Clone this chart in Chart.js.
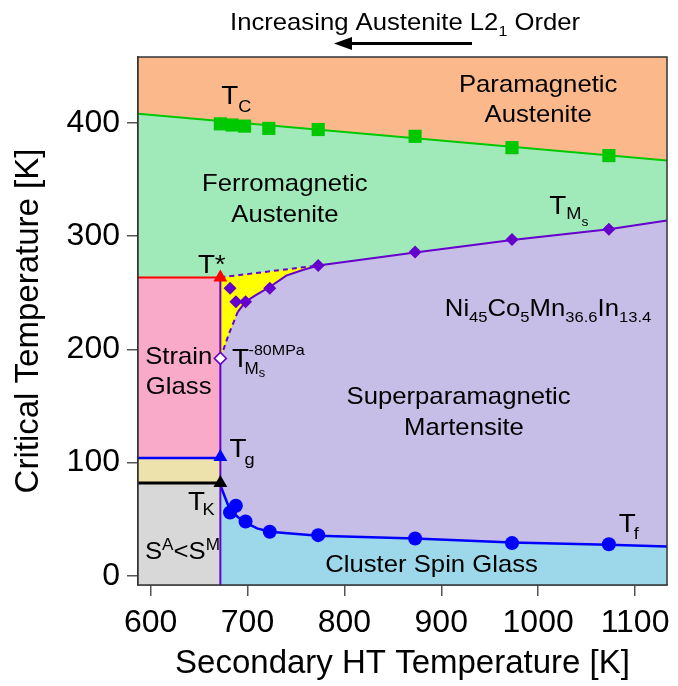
<!DOCTYPE html>
<html>
<head>
<meta charset="utf-8">
<script src="https://cdn.jsdelivr.net/npm/chart.js@4.4.1/dist/chart.umd.min.js"></script>
<style>
  html, body { margin: 0; padding: 0; background: #fff; }
  canvas { display: block; }
</style>
</head>
<body>
<canvas id="phaseChart" width="678" height="686"></canvas>
<script>
// ---- axis setup ----
const xTicks = [600, 700, 800, 900, 1000, 1100];
const yTicks = [0, 100, 200, 300, 400];
const xMin = 587, xMax = 1133;
const yMin = -8, yMax = 458;

// ---- measured points ----
const tcTemps = [672, 684, 697, 722, 773, 873, 973, 1073];
const tcValues = [399, 398, 397, 395, 394, 388, 378, 371];

const msTemps = [682, 688, 698, 723, 773, 873, 973, 1073];
const msValues = [254, 242, 242, 254, 274, 286, 297, 306];

const tfTemps = [682, 688, 698, 723, 773, 873, 973, 1073];
const tfValues = [56, 62, 48, 39, 36, 33, 29, 28];

// T*, Tg, TK (triangles) and TMs at -80 MPa (open diamond), all at 672 K
const edgeTemp = 672;
const triangleValues = [263.5, 105, 82];
const msStressValue = 192;

// ---- phase boundaries ----
const tcLineX = [587, 1133];
const tcLineY = [408, 366.6];

const msCurveX = [672, 681, 690, 698, 709, 723, 740, 757, 773, 873, 973, 1073, 1133];
const msCurveY = [192, 214, 233, 242, 248, 255, 265, 270, 274, 285.5, 296.5, 306, 313.6];

const starLineX = [672, 773];
const starLineY = [263.5, 274];

const tfCurveX = [672, 682, 690, 698, 710, 723, 773, 873, 973, 1073, 1133];
const tfCurveY = [80, 58, 52, 47, 42, 39, 35.5, 33, 29.5, 27.5, 26];

const stripX = [587, 672];
const strainTop = 263.5;
const tgLevel = 104;
const tkLevel = 82;

// ---- colours ----
const ORANGE = '#fbb98b';
const GREEN_BG = '#a0eaba';
const LAVENDER = '#c6bee6';
const PINK = '#f8aac8';
const BEIGE = '#eee2ac';
const GREY = '#d8d8d8';
const CYAN = '#9dd8ea';
const YELLOW = '#ffff00';
const PURPLE = '#6600cc';
const TC_GREEN = '#00c800';
const BLUE = '#0000ff';

const FONT = 'Arial, "Liberation Sans", sans-serif';
const SX = 1.07;

// in-plot labels, anchored in data units
const labels = [
  { x: 1000, y: 427.5, align: 'center', runs: [{ t: 'Paramagnetic', s: 24 }] },
  { x: 1000, y: 400.2, align: 'center', runs: [{ t: 'Austenite', s: 24 }] },
  { x: 738.6, y: 340, align: 'center', runs: [{ t: 'Ferromagnetic', s: 24 }] },
  { x: 738.6, y: 312, align: 'center', runs: [{ t: 'Austenite', s: 24 }] },
  { x: 672.9, y: 416.4, runs: [{ t: 'T', s: 26 }, { t: 'C', s: 17, dy: 7.4 }] },
  { x: 1011.5, y: 319.4, runs: [{ t: 'T', s: 26 }, { t: 'M', s: 17, dy: 5 }, { t: 's', s: 13, dy: 11.7 }] },
  { x: 648.8, y: 267.1, runs: [{ t: 'T*', s: 26 }] },
  { x: 629, y: 187.2, align: 'center', runs: [{ t: 'Strain', s: 24 }] },
  { x: 629, y: 160.8, align: 'center', runs: [{ t: 'Glass', s: 24 }] },
  { x: 684.1, y: 184.2, runs: [{ t: 'T', s: 26 }, { t: '-80MPa', s: 15, dy: -12.7, x: 16.5 },
                               { t: 'M', s: 16, dy: 6.6, x: 12.3 }, { t: 's', s: 12, dy: 10 }] },
  { x: 917.9, y: 152, align: 'center', runs: [{ t: 'Superparamagnetic', s: 24 }] },
  { x: 923.4, y: 124, align: 'center', runs: [{ t: 'Martensite', s: 24 }] },
  { x: 903.7, y: 229.8, runs: [{ t: 'Ni', s: 24 }, { t: '45', s: 15.5, dy: 6.7 }, { t: 'Co', s: 24 },
                               { t: '5', s: 15.5, dy: 6.7 }, { t: 'Mn', s: 24 }, { t: '36.6', s: 15.5, dy: 6.7 },
                               { t: 'In', s: 24 }, { t: '13.4', s: 15.5, dy: 6.7 }] },
  { x: 681.4, y: 104.9, runs: [{ t: 'T', s: 26 }, { t: 'g', s: 17, dy: 8.3, x: 15 }] },
  { x: 638.6, y: 58.5, runs: [{ t: 'T', s: 26 }, { t: 'K', s: 17, dy: 5, x: 14.4 }] },
  { x: 594.2, y: 15.3, runs: [{ t: 'S', s: 24 }, { t: 'A', s: 16, dy: -9 }, { t: '<', s: 24 },
                              { t: 'S', s: 24 }, { t: 'M', s: 16, dy: -9 }] },
  { x: 890, y: 3.5, align: 'center', runs: [{ t: 'Cluster Spin Glass', s: 24 }] },
  { x: 1083.3, y: 38.8, runs: [{ t: 'T', s: 26 }, { t: 'f', s: 17, dy: 6.6, x: 15 }] }
];

const headerRuns = [{ t: 'Increasing Austenite L2', s: 24 }, { t: '1', s: 15, dy: 6 }, { t: ' Order', s: 24 }];

function pts(xs, ys) {
  return xs.map((v, i) => ({ x: v, y: ys[i] }));
}

function drawRuns(ctx, x0, y0, runs, align) {
  let w = 0;
  if (align === 'center') {
    runs.forEach(r => { ctx.font = r.s + 'px ' + FONT; w += ctx.measureText(r.t).width * SX; });
  }
  const start = align === 'center' ? x0 - w / 2 : x0;
  let cx = start;
  runs.forEach(r => {
    if (r.x !== undefined) cx = start + r.x;
    ctx.font = r.s + 'px ' + FONT;
    ctx.save();
    ctx.translate(cx, y0 + (r.dy || 0));
    ctx.scale(SX, 1);
    ctx.fillText(r.t, 0, 0);
    ctx.restore();
    cx += ctx.measureText(r.t).width * SX;
  });
}

const labelPlugin = {
  id: 'phaseLabels',
  afterDatasetsDraw(chart) {
    const { ctx, chartArea: a, scales: { x, y } } = chart;
    ctx.save();
    ctx.strokeStyle = '#333';
    ctx.lineWidth = 1.5;
    ctx.strokeRect(a.left, a.top, a.right - a.left, a.bottom - a.top);
    ctx.fillStyle = '#000';
    ctx.textBaseline = 'alphabetic';
    ctx.textAlign = 'left';
    labels.forEach(l => drawRuns(ctx, x.getPixelForValue(l.x), y.getPixelForValue(l.y), l.runs, l.align));

    // header + arrow above the plot
    drawRuns(ctx, 230, 30, headerRuns);
    ctx.strokeStyle = '#000';
    ctx.lineWidth = 3;
    ctx.beginPath();
    ctx.moveTo(472, 43.5);
    ctx.lineTo(348, 43.5);
    ctx.stroke();
    ctx.beginPath();
    ctx.moveTo(334, 43.5);
    ctx.lineTo(352, 37);
    ctx.lineTo(352, 50);
    ctx.closePath();
    ctx.fill();
    ctx.restore();
  }
};

Chart.defaults.font.family = FONT;
Chart.defaults.color = '#000';

const fillSet = (data, fill, bg, line, width, order, extra) => Object.assign({
  type: 'line', data, fill, backgroundColor: bg, borderColor: line || 'rgba(0,0,0,0)',
  borderWidth: width || 0, pointRadius: 0, tension: 0, order
}, extra || {});

new Chart(document.getElementById('phaseChart'), {
  type: 'line',
  data: {
    datasets: [
      fillSet(pts(tcLineX, tcLineY), 'start', GREEN_BG, null, 0, 30),
      fillSet(pts(tcLineX, tcLineY), 'end', ORANGE, TC_GREEN, 2, 29),
      fillSet(pts(starLineX, starLineY), 'start', YELLOW, PURPLE, 2, 28, { borderDash: [5, 4] }),
      fillSet(pts(msCurveX, msCurveY), 'start', LAVENDER, null, 0, 27),
      fillSet(pts(msCurveX, msCurveY), false, 'rgba(0,0,0,0)', PURPLE, 2, 26.5, {
        segment: { borderDash: c => (c.p0DataIndex < 2 ? [5, 4] : undefined) }
      }),
      fillSet(pts(tfCurveX, tfCurveY), 'start', CYAN, BLUE, 2.5, 26),
      fillSet(pts(stripX, [strainTop, strainTop]), 'start', PINK, '#ff0000', 2, 25),
      fillSet(pts(stripX, [tgLevel, tgLevel]), 'start', BEIGE, BLUE, 2.5, 24),
      fillSet(pts(stripX, [tkLevel, tkLevel]), 'start', GREY, '#000', 3, 23),
      fillSet(pts([edgeTemp, edgeTemp], [yMin, strainTop]), false, 'rgba(0,0,0,0)', PURPLE, 2, 22),
      {
        type: 'scatter', data: pts(tcTemps, tcValues), showLine: false, order: 5,
        pointStyle: 'rect', pointRadius: 9.3, backgroundColor: TC_GREEN, borderWidth: 0
      },
      {
        type: 'scatter', data: pts(msTemps, msValues), showLine: false, order: 4,
        pointStyle: 'rectRot', pointRadius: 6.5, backgroundColor: PURPLE, borderWidth: 0
      },
      {
        type: 'scatter', data: pts([edgeTemp], [msStressValue]), showLine: false, order: 3,
        pointStyle: 'rectRot', pointRadius: 6, backgroundColor: '#fff', borderColor: PURPLE, borderWidth: 1.5
      },
      {
        type: 'scatter', data: pts(tfTemps, tfValues), showLine: false, order: 2,
        pointStyle: 'circle', pointRadius: 7, backgroundColor: BLUE, borderWidth: 0
      },
      {
        type: 'scatter', data: pts(triangleValues.map(() => edgeTemp), triangleValues), showLine: false, order: 1,
        pointStyle: 'triangle', pointRadius: 8, backgroundColor: ['#ff0000', BLUE, '#000'], borderWidth: 0
      }
    ]
  },
  options: {
    responsive: false,
    devicePixelRatio: 1,
    animation: false,
    events: [],
    layout: { padding: { top: 57, right: 8, left: 0, bottom: 0 } },
    plugins: { legend: { display: false }, tooltip: { enabled: false } },
    scales: {
      x: {
        type: 'linear', min: xMin, max: xMax,
        afterBuildTicks: s => { s.ticks = xTicks.map(v => ({ value: v })); },
        afterFit: s => { s.height = 101; },
        ticks: { font: { size: 32 }, padding: 8, maxRotation: 0, callback: v => String(v) },
        grid: { drawOnChartArea: false, drawTicks: true, tickLength: 11, color: '#555', lineWidth: 1.5 },
        border: { display: true, color: '#333', width: 1.5 },
        title: { display: true, text: 'Secondary HT Temperature [K]', font: { size: 33 }, padding: { top: 0, bottom: 2 } }
      },
      y: {
        type: 'linear', min: yMin, max: yMax,
        afterBuildTicks: s => { s.ticks = yTicks.map(v => ({ value: v })); },
        afterFit: s => { s.width = 138; },
        ticks: { font: { size: 32 }, padding: 7, callback: v => String(v) },
        grid: { drawOnChartArea: false, drawTicks: true, tickLength: 11, color: '#555', lineWidth: 1.5 },
        border: { display: true, color: '#333', width: 1.5 },
        title: { display: true, text: 'Critical Temperature [K]', font: { size: 33 }, padding: { top: 9, bottom: 0 } }
      }
    }
  },
  plugins: [labelPlugin]
});
</script>
</body>
</html>
